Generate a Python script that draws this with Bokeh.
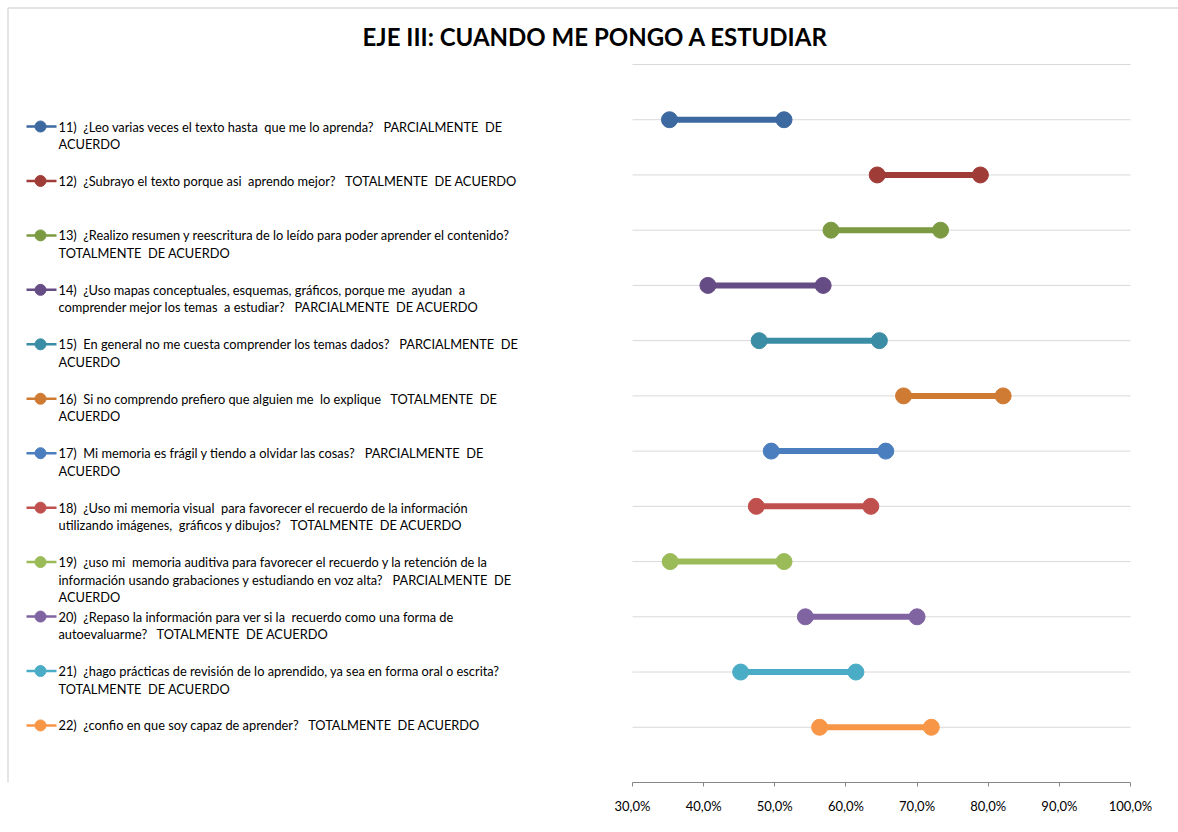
from bokeh.plotting import figure
from bokeh.models import Range1d, FixedTicker, BoxAnnotation, ColumnDataSource
from bokeh.core.properties import value
from bokeh.embed import file_html
from bokeh.resources import INLINE
import re

title = "EJE III: CUANDO ME PONGO A ESTUDIAR"
labels = [
    "11)  ¿Leo varias veces el texto hasta  que me lo aprenda?   PARCIALMENTE  DE\nACUERDO",
    "12)  ¿Subrayo el texto porque asi  aprendo mejor?   TOTALMENTE  DE ACUERDO",
    "13)  ¿Realizo resumen y reescritura de lo leído para poder aprender el contenido?\nTOTALMENTE  DE ACUERDO",
    "14)  ¿Uso mapas conceptuales, esquemas, gráficos, porque me  ayudan  a\ncomprender mejor los temas  a estudiar?   PARCIALMENTE  DE ACUERDO",
    "15)  En general no me cuesta comprender los temas dados?   PARCIALMENTE  DE\nACUERDO",
    "16)  Si no comprendo prefiero que alguien me  lo explique   TOTALMENTE  DE\nACUERDO",
    "17)  Mi memoria es frágil y tiendo a olvidar las cosas?   PARCIALMENTE  DE\nACUERDO",
    "18)  ¿Uso mi memoria visual  para favorecer el recuerdo de la información\nutilizando imágenes,  gráficos y dibujos?   TOTALMENTE  DE ACUERDO",
    "19)  ¿uso mi  memoria auditiva para favorecer el recuerdo y la retención de la\ninformación usando grabaciones y estudiando en voz alta?   PARCIALMENTE  DE\nACUERDO",
    "20)  ¿Repaso la información para ver si la  recuerdo como una forma de\nautoevaluarme?   TOTALMENTE  DE ACUERDO",
    "21)  ¿hago prácticas de revisión de lo aprendido, ya sea en forma oral o escrita?\nTOTALMENTE  DE ACUERDO",
    "22)  ¿confio en que soy capaz de aprender?   TOTALMENTE  DE ACUERDO",
]
low = [35.2, 64.4, 57.9, 40.6, 47.8, 68.1, 49.5, 47.4, 35.3, 54.3, 45.2, 56.3]
high = [51.3, 78.9, 73.3, 56.8, 64.7, 82.1, 65.6, 63.5, 51.3, 70.0, 61.4, 72.0]
colors = ["#3C69A0", "#A03C38", "#7C9A42", "#664C85", "#3A8DA4", "#D07B34",
          "#4B7EBE", "#C0504D", "#9BBB59", "#8064A2", "#4BACC6", "#F79646"]
x_ticks = [30, 40, 50, 60, 70, 80, 90, 100]
x_tick_labels = ["30,0%", "40,0%", "50,0%", "60,0%", "70,0%", "80,0%", "90,0%", "100,0%"]

W, H = 1178, 824
PX_PER_X = (1130 - 632) / 70.0      # pixels per percent
PX_PER_Y = (782 - 64) / 13.0        # pixels per category slot
x0 = 30 - 632 / PX_PER_X
x1 = 100 + (W - 1130) / PX_PER_X
y_top = 0 - 64 / PX_PER_Y

p = figure(width=W, height=H, x_range=Range1d(x0, x1), y_range=Range1d(13, y_top),
           output_backend="svg", toolbar_location=None, y_axis_location=None,
           min_border_left=0, min_border_right=0, min_border_top=0,
           min_border_bottom=H - 782)
p.outline_line_color = None
p.xgrid.visible = False
p.ygrid.visible = False
p.background_fill_color = "white"
p.border_fill_color = "white"

# chart border
p.add_layout(BoxAnnotation(left=7.5, right=W + 50, top=7.5, bottom=H + 50,
                           left_units="canvas", right_units="canvas",
                           top_units="canvas", bottom_units="canvas",
                           fill_color=None, line_color="#8C8C8C", line_width=1.5))

# horizontal gridlines
n = len(low)
gy = list(range(0, n + 1))
p.segment(x0=[30] * (n + 1), x1=[100] * (n + 1), y0=gy, y1=gy,
          line_color="#D9D9D9", line_width=1)

# x axis
ax = p.xaxis[0]
ax.bounds = (30, 100)
ax.ticker = FixedTicker(ticks=x_ticks)
ax.major_label_overrides = {t: l for t, l in zip(x_ticks, x_tick_labels)}
ax.minor_tick_line_color = None
ax.major_tick_in = 0
ax.major_tick_out = 4
ax.major_label_standoff = 11
ax.axis_line_color = "#868686"
ax.major_tick_line_color = "#868686"
ax.major_label_text_font = "Lato"
ax.major_label_text_font_size = "13px"
ax.major_label_text_color = "#000000"

# dumbbells
ys = [i + 1 for i in range(n)]
src = ColumnDataSource(dict(low=low, high=high, y=ys, color=colors))
p.segment(x0="low", x1="high", y0="y", y1="y", line_color="color", line_width=6, source=src)
p.scatter(x="low", y="y", size=16, fill_color="color", line_color="color", source=src)
p.scatter(x="high", y="y", size=16, fill_color="color", line_color="color", source=src)

# legend (left side)
leg_first = (126 - 64) / PX_PER_Y
leg_step = 54.45 / PX_PER_Y
line_h = 17.6 / PX_PER_Y
lx_a = 30 - (632 - 26) / PX_PER_X
lx_b = 30 - (632 - 56) / PX_PER_X
lx_c = 30 - (632 - 40) / PX_PER_X
lx_t = 30 - (632 - 58) / PX_PER_X


def keep_spaces(s):
    return re.sub(r" {2,}", lambda m: " " + "\u00a0" * (len(m.group(0)) - 1), s)


tx, ty, tt = [], [], []
for i, (lab, c) in enumerate(zip(labels, colors)):
    yy = leg_first + i * leg_step
    p.line([lx_a, lx_b], [yy, yy], line_color=c, line_width=2.5)
    p.scatter([lx_c], [yy], size=11, fill_color=c, line_color=c)
    for k, part in enumerate(lab.split("\n")):
        tx.append(lx_t)
        ty.append(yy + k * line_h)
        tt.append(keep_spaces(part))
p.text(x=tx, y=ty, text=tt, text_font=value("Lato"), text_font_size="12.8px",
       text_baseline="middle", text_align="left", text_color="#000000")

# title
p.text(x=[30 - (632 - 595) / PX_PER_X], y=[(36 - 64) / PX_PER_Y], text=[title],
       text_font=value("Lato"), text_font_size="24px", text_font_style="bold",
       text_baseline="middle", text_align="center", text_color="#000000")

open("out.html", "w").write(file_html(p, INLINE))
